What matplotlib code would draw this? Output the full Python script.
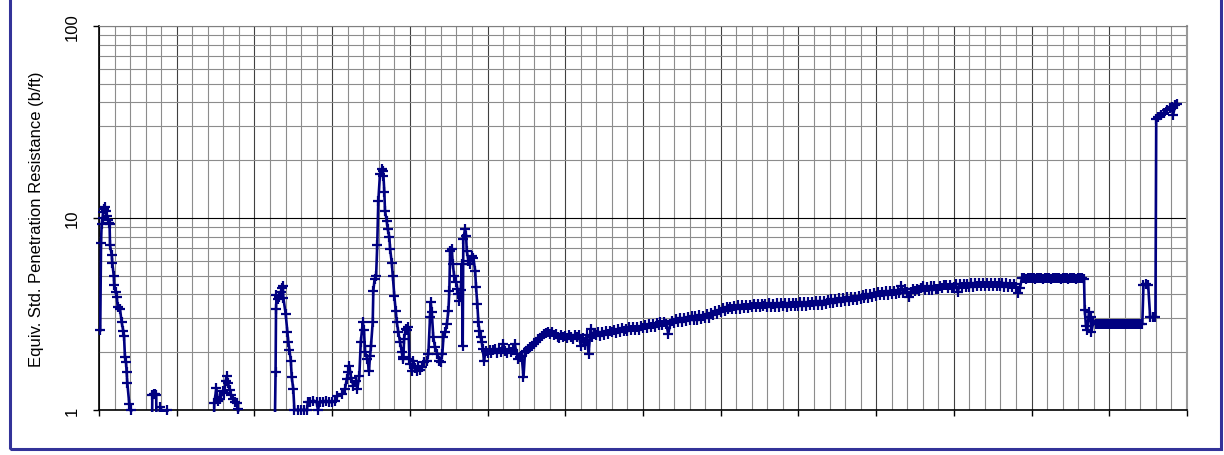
import numpy as np
import matplotlib.pyplot as plt
from matplotlib.ticker import MultipleLocator, FixedLocator, LogLocator, NullFormatter
from matplotlib.transforms import Bbox, TransformedBbox
from matplotlib.patches import Rectangle

plt.rcParams['font.family'] = ['Liberation Sans', 'DejaVu Sans']

# soft layers near the top: depth (ft) and equivalent SPT N
depth_peaks = [0.08, 0.13, 0.17, 0.23, 0.28, 0.33, 0.39, 0.45, 0.51, 0.58, 0.64, 0.68, 0.71,
               0.82, 0.86, 0.95, 0.98, 1.07, 1.14, 1.20, 1.35, 1.46, 1.56, 1.61, 1.67, 1.74,
               1.78, 1.82, 1.95, 2.06, 2.12,
               3.40, 3.43, 3.52, 3.62, 3.68, 3.71, 3.95, 4.05, 4.40, 4.45,
               7.35, 7.42, 7.55, 7.65, 7.80, 7.95, 8.05, 8.15, 8.22, 8.30, 8.40, 8.50, 8.60,
               8.75, 8.87, 8.95, 9.00,
               11.29, 11.36, 11.39, 11.42, 11.49, 11.60, 11.69, 11.76, 11.82, 11.86, 12.01,
               12.12, 12.18, 12.25, 12.34, 12.40, 12.50, 12.57, 12.80, 13.00, 13.20, 13.38,
               13.43, 13.60, 13.80, 14.00, 14.09, 14.20, 14.40, 14.60, 14.80, 15.00, 15.20,
               15.33, 15.62, 15.83, 15.94, 16.04, 16.11, 16.22, 16.37, 16.54, 16.62, 16.75,
               16.84, 16.97, 17.05, 17.12, 17.27, 17.37, 17.44, 17.50, 17.61, 17.65, 17.73,
               17.83, 17.90, 17.97, 18.08, 18.19, 18.24, 18.30, 18.36, 18.40, 18.51, 18.57,
               18.68, 18.73, 18.84, 18.90, 19.00, 19.09, 19.16, 19.26, 19.37, 19.47, 19.54,
               19.58, 19.63, 19.72, 19.80, 19.91, 19.97, 20.01, 20.12, 20.22, 20.33, 20.44,
               20.55, 20.66, 20.77, 20.91, 21.09, 21.19, 21.30, 21.34, 21.41, 21.51, 21.62,
               21.77, 21.90, 21.99, 22.09, 22.16, 22.27, 22.38, 22.48, 22.54, 22.59, 22.70,
               22.76, 22.85, 22.98, 23.06, 23.12, 23.19, 23.28, 23.34, 23.40, 23.44, 23.55,
               23.62, 23.66, 23.77, 23.87, 23.98, 24.09, 24.20, 24.26, 24.34, 24.41, 24.47,
               24.56, 24.63, 24.69, 24.77,
               24.875, 25.0, 25.125, 25.25, 25.375, 25.5, 25.625, 25.75, 25.875, 26.0,
               26.125, 26.25, 26.375, 26.5, 26.625, 26.75, 26.875, 26.98, 27.10, 27.20,
               27.31, 27.41, 27.5, 27.625, 27.75, 27.875, 28.0, 28.125, 28.25, 28.375,
               28.5, 28.625, 28.75, 28.875, 29.0, 29.125, 29.25, 29.375, 29.5]
spt_peaks = [2.6, 7.4, 9.3, 10.0, 10.8, 11.2, 11.4, 10.9, 10.3, 9.8, 9.4, 9.3, 7.2,
             6.4, 5.8, 5.0, 4.5, 4.1, 3.9, 3.45, 3.36, 2.86, 2.59, 2.44, 1.88, 1.77,
             1.57, 1.39, 1.07, 1.0, 0.6,
             0.6, 1.2, 1.21, 1.21, 1.2, 0.7, 1.04, 0.98, 1.0, 0.6,
             0.6, 1.09, 1.3, 1.12, 1.14, 1.25, 1.22, 1.42, 1.5, 1.39, 1.27, 1.2, 1.14,
             1.1, 1.09, 1.01, 0.6,
             0.6, 1.58, 3.36, 3.97, 3.8, 3.9, 4.1, 4.3, 4.44, 3.85, 3.16,
             2.56, 2.27, 2.06, 1.81, 1.48, 1.29, 1.0, 1.0, 1.0, 1.0, 1.0,
             1.1, 1.1, 1.12, 1.1, 1.0, 1.1, 1.1, 1.12, 1.1, 1.1, 1.12,
             1.18, 1.21, 1.29, 1.45, 1.57, 1.7, 1.46, 1.34, 1.42, 1.29, 1.51,
             2.25, 2.86, 2.6, 2.0, 1.84, 1.6, 1.92, 2.16, 2.86, 4.17, 4.8,
             5.0, 7.2, 12.3, 17.0, 17.9, 17.5, 16.6, 13.6, 10.9, 9.7, 8.8,
             7.95, 6.9, 5.8, 5.0, 3.94, 3.29, 2.86, 2.54, 2.25, 2.0, 1.88,
             1.84, 2.34, 2.64, 2.6, 2.7, 1.84, 1.74, 1.6, 1.81, 1.65, 1.6,
             1.7, 1.62, 1.67, 1.77, 1.8, 1.96, 3.04, 3.63, 3.23, 2.39, 2.12,
             1.96, 1.81, 1.78, 1.96, 2.39, 2.54, 2.8, 3.29, 4.17, 6.75, 6.88,
             5.76, 5.0, 4.62, 4.27, 4.02, 3.7, 4.2, 5.76, 2.16, 7.77, 8.76,
             8.09, 6.75, 6.0, 5.76, 6.36, 6.2, 5.3, 4.35, 3.57, 2.86, 2.59,
             2.39, 2.25, 2.08, 1.81,
             2.02, 1.97, 2.06, 1.98, 2.05, 2.08, 1.99, 2.07, 2.00, 2.22,
             2.04, 1.98, 2.08, 2.00, 2.06, 2.20, 1.96, 1.85, 1.88, 1.90,
             1.48, 2.00, 2.04, 2.08, 2.12, 2.16, 2.22, 2.26, 2.33, 2.38,
             2.44, 2.49, 2.52, 2.55, 2.48, 2.54, 2.45, 2.48, 2.41]

# slowly stiffening layer, one row per foot
depth_trend = [29.625, 29.75, 29.875,
               30.0, 30.125, 30.25, 30.375, 30.5, 30.625, 30.75, 30.875,
               31.0, 31.125, 31.25, 31.375, 31.5, 31.625, 31.75, 31.875,
               32.0, 32.125, 32.25, 32.375, 32.5, 32.625, 32.75, 32.875,
               33.0, 33.125, 33.25, 33.375, 33.5, 33.625, 33.75, 33.875,
               34.0, 34.125, 34.25, 34.375, 34.5, 34.625, 34.75, 34.875,
               35.0, 35.125, 35.25, 35.375, 35.5, 35.625, 35.75, 35.875,
               36.0, 36.125, 36.25, 36.375, 36.5, 36.625, 36.75, 36.875,
               37.0, 37.125, 37.25, 37.375, 37.5, 37.625, 37.75, 37.875,
               38.0, 38.125, 38.25, 38.375, 38.5, 38.625, 38.75, 38.875,
               39.0, 39.125, 39.25, 39.375, 39.5, 39.625, 39.75, 39.875,
               40.0, 40.125, 40.25, 40.375, 40.5, 40.625, 40.75, 40.875,
               41.0, 41.125, 41.25, 41.375, 41.5, 41.625, 41.75, 41.875,
               42.0, 42.125, 42.25, 42.375, 42.5, 42.625, 42.75, 42.875,
               43.0, 43.125, 43.25, 43.375, 43.5, 43.625, 43.75, 43.875,
               44.0, 44.125, 44.25, 44.375, 44.5, 44.625, 44.75, 44.875,
               45.0, 45.125, 45.25, 45.375, 45.5, 45.625, 45.75, 45.875,
               46.0, 46.125, 46.25, 46.375, 46.5, 46.625, 46.75, 46.875,
               47.0, 47.125, 47.25, 47.375, 47.5, 47.625, 47.75, 47.875,
               48.0, 48.125, 48.25, 48.375, 48.5, 48.625, 48.75, 48.875,
               49.0, 49.125, 49.25, 49.375, 49.5, 49.625, 49.75, 49.875,
               50.0, 50.125, 50.25, 50.375, 50.5, 50.625, 50.75, 50.875,
               51.0, 51.125, 51.25, 51.375, 51.5, 51.625, 51.75, 51.875,
               52.0, 52.125, 52.25, 52.375, 52.5, 52.625, 52.75, 52.875,
               53.0, 53.125, 53.25, 53.375, 53.5, 53.625, 53.75, 53.875,
               54.0, 54.125, 54.25, 54.375, 54.5, 54.625, 54.75, 54.875,
               55.0, 55.125, 55.25, 55.375, 55.5, 55.625, 55.75, 55.875,
               56.0, 56.125, 56.25, 56.375, 56.5, 56.625, 56.75, 56.875,
               57.0, 57.125, 57.25, 57.375, 57.5, 57.625, 57.75, 57.875,
               58.0, 58.125, 58.25, 58.375, 58.5, 58.625, 58.75, 58.875,
               59.0, 59.125, 59.25]
spt_trend = [2.38, 2.47, 2.40,
             2.43, 2.36, 2.47, 2.40, 2.35, 2.46, 2.39, 2.45,
             2.15, 2.38, 2.18, 2.45, 1.96, 2.64, 2.40, 2.50,
             2.46, 2.55, 2.44, 2.56, 2.47, 2.58, 2.48, 2.59,
             2.54, 2.62, 2.53, 2.64, 2.56, 2.66, 2.57, 2.65,
             2.58, 2.70, 2.60, 2.71, 2.62, 2.72, 2.61, 2.73,
             2.66, 2.78, 2.67, 2.80, 2.70, 2.82, 2.71, 2.84,
             2.77, 2.86, 2.78, 2.89, 2.80, 2.50, 2.79, 2.92,
             2.84, 2.97, 2.86, 3.00, 2.88, 3.02, 2.90, 3.04,
             2.95, 3.08, 2.94, 3.09, 2.96, 3.11, 2.97, 3.10,
             3.01, 3.15, 3.03, 3.19, 3.12, 3.27, 3.18, 3.33,
             3.24, 3.40, 3.27, 3.43, 3.34, 3.45, 3.36, 3.47,
             3.37, 3.52, 3.37, 3.53, 3.38, 3.54, 3.39, 3.53,
             3.42, 3.55, 3.43, 3.56, 3.45, 3.55, 3.46, 3.56,
             3.44, 3.59, 3.43, 3.58, 3.45, 3.60, 3.45, 3.59,
             3.46, 3.61, 3.45, 3.60, 3.46, 3.62, 3.47, 3.61,
             3.48, 3.63, 3.49, 3.65, 3.50, 3.66, 3.51, 3.67,
             3.52, 3.68, 3.53, 3.70, 3.54, 3.71, 3.56, 3.73,
             3.60, 3.77, 3.62, 3.79, 3.64, 3.81, 3.66, 3.83,
             3.70, 3.86, 3.71, 3.89, 3.73, 3.90, 3.75, 3.93,
             3.80, 3.97, 3.82, 4.00, 3.85, 4.03, 3.88, 4.06,
             3.93, 4.10, 3.95, 4.13, 3.97, 4.15, 3.98, 4.17,
             4.02, 4.19, 4.03, 4.22, 4.05, 4.40, 4.07, 4.25,
             4.10, 3.88, 4.13, 4.26, 4.17, 4.29, 4.19, 4.31,
             4.45, 4.21, 4.37, 4.22, 4.40, 4.24, 4.41, 4.25,
             4.29, 4.45, 4.30, 4.47, 4.50, 4.33, 4.49, 4.34,
             4.36, 4.52, 4.10, 4.52, 4.38, 4.54, 4.39, 4.52,
             4.39, 4.56, 4.38, 4.56, 4.40, 4.57, 4.40, 4.56,
             4.40, 4.58, 4.40, 4.59, 4.42, 4.60, 4.41, 4.59,
             4.40, 4.57, 4.38, 4.56, 4.39, 4.55, 4.36, 4.52,
             4.38, 4.05, 4.30]

# dense layer, soft lens and refusal at the bottom
depth_end = [59.375, 59.5, 59.625, 59.75, 59.875, 60.0, 60.125, 60.25, 60.375, 60.5,
             60.625, 60.75, 60.875, 61.0, 61.125, 61.25, 61.375, 61.5, 61.625, 61.75,
             61.875, 62.0, 62.125, 62.25, 62.375, 62.5, 62.625, 62.75, 62.875, 63.0,
             63.125, 63.25, 63.375, 63.42, 63.50, 63.58, 63.70, 63.80, 63.85, 63.98,
             64.125, 64.25, 64.375, 64.5, 64.625, 64.75, 64.875, 65.0, 65.125, 65.25,
             65.375, 65.5, 65.625, 65.75, 65.875, 66.0, 66.125, 66.25, 66.375, 66.5,
             66.625, 66.75, 66.875, 67.0, 67.125, 67.20, 67.35, 67.50, 67.63, 67.80,
             67.97, 68.02, 68.15, 68.30, 68.50, 68.70, 68.90, 69.05, 69.10, 69.25,
             69.36]
spt_end = [4.85, 4.86, 4.84, 4.86, 4.85, 4.87, 4.85, 4.84, 4.86, 4.85,
           4.87, 4.84, 4.86, 4.85, 4.86, 4.84, 4.85, 4.87, 4.85, 4.86,
           4.84, 4.86, 4.85, 4.87, 4.84, 4.86, 4.85, 4.86, 4.84, 4.85,
           4.87, 4.85, 4.84, 3.3, 2.75, 2.6, 3.25, 3.05, 2.55, 2.9,
           2.80, 2.81, 2.79, 2.80, 2.81, 2.79, 2.80, 2.82, 2.80, 2.79,
           2.81, 2.80, 2.79, 2.81, 2.80, 2.82, 2.79, 2.80, 2.81, 2.80,
           2.79, 2.81, 2.80, 2.79, 2.81, 4.5, 4.55, 4.5, 3.04, 3.05,
           3.04, 32.8, 33.5, 34.3, 35.3, 36.5, 37.3, 38.0, 34.3, 38.8,
           39.3]

depth = np.array(depth_peaks + depth_trend + depth_end)
spt = np.array(spt_peaks + spt_trend + spt_end)

fig = plt.figure(figsize=(12.24, 4.56), dpi=100)
ax = fig.add_axes([99 / 1224, 1 - 411 / 456, 1088 / 1224, 384 / 456])

navy = '#000080'
line, = ax.plot(depth, spt, color=navy, lw=1.9, zorder=3)
# let the trace sit on the N = 1 line without being cut in half
line.set_clip_box(TransformedBbox(Bbox([[0, -0.006], [1, 1]]), ax.transAxes))
on_chart = spt >= 1
ax.plot(depth[on_chart], spt[on_chart], ls='none', marker='+', ms=7.5, mew=1.6,
        color=navy, clip_on=False, zorder=4)

ax.set_yscale('log')
ax.set_ylim(1, 100)
ax.set_xlim(0, 70)
ax.xaxis.set_major_locator(MultipleLocator(5))
ax.xaxis.set_minor_locator(MultipleLocator(1))
ax.yaxis.set_major_locator(FixedLocator([1, 10, 100]))
ax.yaxis.set_minor_locator(LogLocator(base=10, subs=range(2, 10)))
ax.yaxis.set_minor_formatter(NullFormatter())
ax.set_yticklabels(['1', '10', '100'], rotation=90, va='center')

ax.tick_params(axis='y', which='major', direction='out', length=4, width=1,
               pad=10, labelsize=12)
ax.tick_params(axis='x', which='major', direction='out', length=4, width=1,
               labelbottom=False)
ax.tick_params(which='minor', length=0)

ax.set_axisbelow(True)
ax.grid(which='minor', axis='both', color='#8c8c8c', lw=0.8)
ax.grid(which='major', axis='x', color='#404040', lw=0.8)
ax.grid(which='major', axis='y', color='black', lw=0.8)

for s in ['left', 'bottom']:
    ax.spines[s].set_color('black')
    ax.spines[s].set_linewidth(1.2)
ax.spines['top'].set_color('#808080')
ax.spines['top'].set_linewidth(0.8)
ax.spines['right'].set_color('#9a9a9a')
ax.spines['right'].set_linewidth(1.5)

fig.text(37 / 1224, 1 - 219 / 456, 'Equiv. Std. Penetration Resistance (b/ft)',
         rotation=90, ha='center', va='center', fontsize=12)

fig.patches.append(Rectangle((9.5 / 1224, 1 - 450 / 456), (1221 - 9.5) / 1224, 450.5 / 456,
                             transform=fig.transFigure, fill=False,
                             edgecolor='#333399', lw=2.2))

fig.savefig('out.png', dpi=100)
